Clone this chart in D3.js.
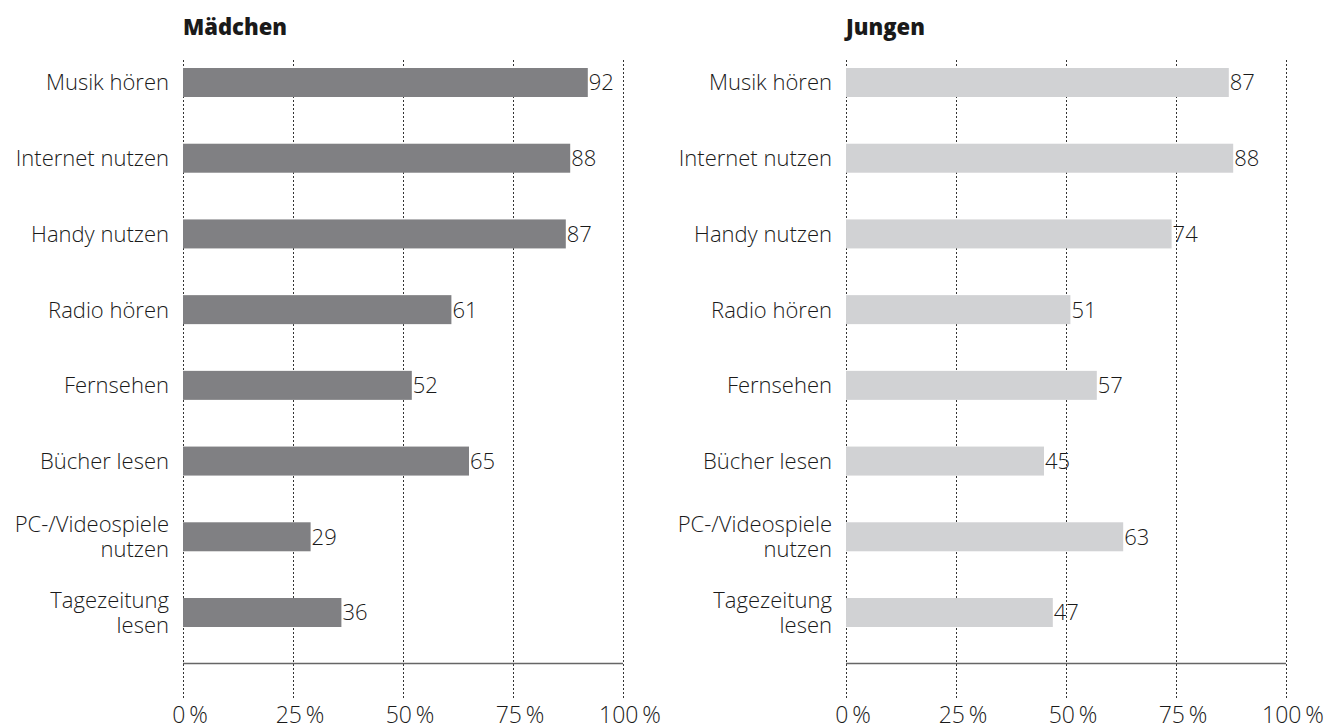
<!DOCTYPE html>
<html>
<head>
<meta charset="utf-8">
<script src="https://cdn.jsdelivr.net/npm/d3@7"></script>
<style>
  body { margin: 0; background: #fff; }
  svg { display: block; font-family: "Open Sans", sans-serif; }
  .lab, .val { font-size: 22px; font-weight: 300; fill: #1a1a1a; }
  .tick-lab { font-size: 23px; font-weight: 300; fill: #1a1a1a; }
  .title { font-size: 22px; font-weight: 800; fill: #1a1a1a; }
</style>
</head>
<body>
<svg class="chart" width="1336" height="727"></svg>
<script>
/* categories, top to bottom */
const categories = ["Musik hören", "Internet nutzen", "Handy nutzen", "Radio hören",
  "Fernsehen", "Bücher lesen", "PC-/Videospiele nutzen", "Tagezeitung lesen"]
/* line breaks of the category labels */
const labelLines = [["Musik hören"], ["Internet nutzen"], ["Handy nutzen"], ["Radio hören"],
  ["Fernsehen"], ["Bücher lesen"], ["PC-/Videospiele", "nutzen"], ["Tagezeitung", "lesen"]]
const girls = [92, 88, 87, 61, 52, 65, 29, 36]
const boys = [87, 88, 74, 51, 57, 45, 63, 47]
const tickValues = [0, 25, 50, 75, 100]
const tickLabels = ["0\u2009%", "25\u2009%", "50\u2009%", "75\u2009%", "100\u2009%"]

const chart = d3.select(".chart")

/*One panel per group*/
const panels = [
  { title: "Mädchen", values: girls, x0: 183, color: "#808083" },
  { title: "Jungen", values: boys, x0: 846, color: "#d1d2d4" }
]

const y = d3.scalePoint().domain(categories).range([82.5, 612.5])
const barH = 29

panels.forEach((p) => {
  const x = d3.scaleLinear().domain([0, 100]).range([p.x0, p.x0 + 440])
  const g = chart.append("g")

  /*Dashed gridlines*/
  g.selectAll(".grid")
    .data(tickValues)
    .enter()
    .append("line")
      .attr("x1", (d) => Math.round(x(d)) + 0.5)
      .attr("x2", (d) => Math.round(x(d)) + 0.5)
      .attr("y1", 60)
      .attr("y2", 699)
      .attr("stroke", "#333")
      .attr("stroke-width", 1)
      .attr("stroke-dasharray", "2,2")

  /*Baseline*/
  g.append("line")
    .attr("x1", x(0)).attr("x2", x(100))
    .attr("y1", 663.5).attr("y2", 663.5)
    .attr("stroke", "#666")
    .attr("stroke-width", 1.5)

  /*Tick labels*/
  g.selectAll(".tick-lab")
    .data(tickValues)
    .enter()
    .append("text")
      .attr("class", "tick-lab")
      .attr("x", (d) => x(d) + 7)
      .attr("y", 723)
      .attr("text-anchor", "middle")
      .text((d, i) => tickLabels[i])

  /*Title*/
  g.append("text")
    .attr("class", "title")
    .attr("x", x(0))
    .attr("y", 35)
    .text(p.title)

  /*Bars*/
  g.selectAll(".bar")
    .data(p.values)
    .enter()
    .append("rect")
      .attr("x", x(0))
      .attr("y", (d, i) => y(categories[i]) - barH / 2)
      .attr("width", (d) => x(d) - x(0))
      .attr("height", barH)
      .attr("fill", p.color)

  /*Value labels*/
  g.selectAll(".val")
    .data(p.values)
    .enter()
    .append("text")
      .attr("class", "val")
      .attr("x", (d) => x(d) + 1)
      .attr("y", (d, i) => y(categories[i]))
      .attr("dy", "0.36em")
      .text((d) => d)

  /*Category labels*/
  const labs = g.selectAll(".lab")
    .data(categories)
    .enter()
    .append("text")
      .attr("class", "lab")
      .attr("text-anchor", "end")
      .attr("x", x(0) - 14)
      .attr("y", (d) => y(d))

  labs.each(function (d, i) {
    const lines = labelLines[i]
    const t = d3.select(this)
    lines.forEach((line, j) => {
      t.append("tspan")
        .attr("x", x(0) - 14)
        .attr("dy", j === 0 ? (0.36 - (lines.length - 1) * 0.57) + "em" : "1.14em")
        .text(line)
    })
  })
})
</script>
</body>
</html>
